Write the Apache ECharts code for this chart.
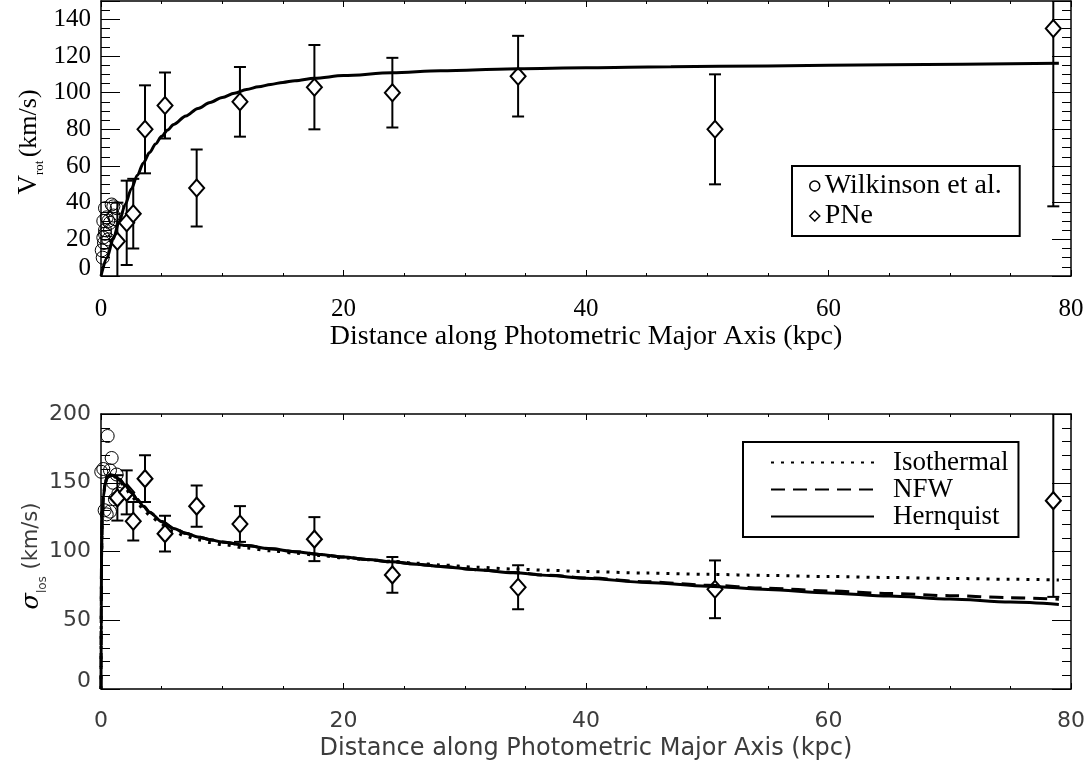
<!DOCTYPE html>
<html><head><meta charset="utf-8">
<script src="https://cdn.jsdelivr.net/npm/echarts@6/dist/echarts.min.js"></script>
<style>html,body{margin:0;padding:0;background:#fff}#c{width:1091px;height:765px}</style>
</head><body><div id="c"></div><script>
// ---- data ----
const pneR = [1.35, 2.12, 2.66, 3.63, 5.28, 7.89, 11.46, 17.6, 24.03, 34.4, 50.64, 78.54];
const pneVrot = [19, 29, 34, 80, 93, 48, 95, 103, 100, 109, 80, 135];
const pneVrotErr = [21, 23, 19, 24, 18, 21, 19, 23, 19, 22, 30, 97];
const pneSigma = [139, 143, 122, 153, 113, 133, 120, 109, 83, 74, 72.5, 137];
const pneSigmaErr = [16.5, 16, 14, 17, 13, 15, 13, 16, 13, 16, 21, 70];

const wilkVrot = [[0.06,14],[0.14,10],[0.19,21],[0.25,18],[0.33,25],[0.33,37],[0.19,30],[0.47,32],[0.6,30],[0.6,20],[0.74,25],[0.74,29],[0.88,39],[1.02,33],[1.02,38],[1.15,31],[1.29,37],[0.33,23]];
const wilkSigma = [[0.55,184],[0.88,168],[0.19,160],[0.02,158],[1.29,156],[0.74,159],[1.15,138],[1.43,142],[0.47,127],[0.74,129],[0.3,130],[1.0,150]];

const vrotFit = [[0,0],[0.5,10],[1,20],[1.5,29.7],[2,39],[2.5,47.5],[3,55],[3.5,61.7],[4,67.3],[4.5,72],[5,76.2],[5.5,79.7],[6,82.7],[7,87.3],[8,91.4],[9,94.7],[10,97.4],[11,99.7],[12,101.7],[13,103.2],[14,104.5],[15,105.6],[16,106.5],[17.6,107.8],[20,109.3],[24,110.9],[28,112],[34.4,113.1],[40,113.6],[47,114.1],[55,114.6],[65,115.2],[79,116]];

const sigIso = [[0,0],[0.02,60],[0.05,100],[0.1,125],[0.2,140],[0.35,150],[0.5,154],[0.75,156],[1,155],[1.5,151.5],[2,146],[2.5,140.5],[3,135.5],[3.5,130.5],[4,126.5],[5,119.5],[6,114.5],[7,111],[8,108.5],[9,106.6],[10,105],[12,102.5],[14,100.5],[16,98.8],[18,97.1],[20,95.4],[22,94],[24,92.8],[26,91.5],[28,90.2],[31,88.6],[34,87.3],[37,86.3],[40,85.4],[45,84.3],[50,83.4],[55,82.6],[60,81.8],[65,81.1],[70,80.4],[75,79.8],[79,79.3]];
const sigNFW = [[0,0],[0.02,60],[0.05,100],[0.1,125],[0.2,140],[0.35,150],[0.5,154],[0.75,156],[1,155.5],[1.5,152.5],[2,148],[2.5,143],[3,137.8],[3.5,133],[4,128.6],[5,121.8],[6,116.8],[7,113.2],[8,110.6],[9,108.6],[10,106.9],[12,104.3],[14,102],[16,99.9],[18,97.9],[20,96],[22,94.2],[24,92.5],[26,90.8],[28,89.1],[31,86.8],[34,84.7],[37,82.7],[40,80.8],[45,78],[50,75.5],[55,73.3],[60,71.3],[65,69.5],[70,67.9],[75,66.4],[79,65.3]];
const sigHern = [[0,0],[0.02,60],[0.05,100],[0.1,125],[0.2,140],[0.35,150],[0.5,154],[0.75,156],[1,155.5],[1.5,152.5],[2,148],[2.5,143],[3,137.8],[3.5,133],[4,128.6],[5,121.8],[6,116.8],[7,113.2],[8,110.6],[9,108.6],[10,106.9],[12,104.3],[14,102],[16,99.9],[18,97.9],[20,96],[22,94.2],[24,92.5],[26,90.8],[28,89.1],[31,86.8],[34,84.6],[37,82.5],[40,80.5],[45,77.5],[50,74.8],[55,72.3],[60,69.9],[65,67.6],[70,65.4],[75,63.2],[79,61.5]];

const vrotRange = [0, 150];
const sigmaRange = [0, 200];

// ---- build ----
const SERIF = '"Liberation Serif","Times New Roman",serif';
const SANS = '"DejaVu Sans",sans-serif';
const sansColor = '#3c3c3c';

function errData(xs, ys, es) { return xs.map((x, i) => [x, ys[i] - es[i], ys[i] + es[i]]); }
function errSeries(xi, yi, data, range) {
  return {
    type: 'custom', xAxisIndex: xi, yAxisIndex: yi, data: data, z: 3, silent: true,
    renderItem: function (params, api) {
      const x = api.value(0);
      let lo = api.value(1), hi = api.value(2);
      const loC = lo < range[0], hiC = hi > range[1];
      lo = Math.max(lo, range[0]); hi = Math.min(hi, range[1]);
      const p1 = api.coord([x, lo]), p2 = api.coord([x, hi]);
      const st = { stroke: '#000', lineWidth: 2 };
      const ch = [{ type: 'line', shape: { x1: p1[0], y1: p1[1], x2: p2[0], y2: p2[1] }, style: st }];
      if (!loC) ch.push({ type: 'line', shape: { x1: p1[0] - 6, y1: p1[1], x2: p1[0] + 6, y2: p1[1] }, style: st });
      if (!hiC) ch.push({ type: 'line', shape: { x1: p2[0] - 6, y1: p2[1], x2: p2[0] + 6, y2: p2[1] }, style: st });
      return { type: 'group', children: ch };
    }
  };
}
function xAxisCfg(gi, pos, labels, font, size, color, name, nameSize, nameGap) {
  const a = {
    type: 'value', gridIndex: gi, position: pos, min: 0, max: 80, interval: 20,
    axisLine: { show: true, onZero: false, lineStyle: { color: '#000', width: 1.5 } },
    axisTick: { show: true, inside: true, length: 6, lineStyle: { color: '#000', width: 1 } },
    minorTick: { show: true, splitNumber: 4, length: 3, lineStyle: { color: '#000', width: 1 } },
    splitLine: { show: false },
    axisLabel: { show: labels, margin: 21, fontFamily: font, fontSize: size, color: color }
  };
  if (name) {
    a.name = name; a.nameLocation = 'middle'; a.nameGap = nameGap;
    a.nameTextStyle = { fontFamily: font, fontSize: nameSize, color: color };
  }
  return a;
}
function yAxisCfg(gi, pos, labels, range, interval, minorSplit, font, size, color) {
  return {
    type: 'value', gridIndex: gi, position: pos, min: range[0], max: range[1], interval: interval,
    axisLine: { show: true, onZero: false, lineStyle: { color: '#000', width: 1.5 } },
    axisTick: { show: true, inside: true, length: 19, lineStyle: { color: '#000', width: 1 } },
    minorTick: { show: true, splitNumber: minorSplit, length: 9, lineStyle: { color: '#000', width: 1 } },
    splitLine: { show: false },
    axisLabel: {
      show: labels, margin: 10, fontFamily: font, fontSize: size, color: color,
      formatter: function (v) { if (v % interval !== 0) return ''; return v === 0 ? '{z|0}' : String(v); },
      rich: { z: { fontFamily: font, fontSize: size, color: color, padding: [0, 0, 16, 0] } }
    }
  };
}

const option = {
  animation: false,
  backgroundColor: '#fff',
  grid: [
    { left: 101, right: 20, top: 1, height: 275 },
    { left: 101, right: 20, top: 414, height: 275 }
  ],
  xAxis: [
    xAxisCfg(0, 'bottom', true, SERIF, 25, '#000', 'Distance along Photometric Major Axis (kpc)', 28, 43),
    xAxisCfg(0, 'top', false, SERIF, 25, '#000'),
    xAxisCfg(1, 'bottom', true, SANS, 22, sansColor, 'Distance along Photometric Major Axis (kpc)', 24, 48),
    xAxisCfg(1, 'top', false, SANS, 22, sansColor)
  ],
  yAxis: [
    yAxisCfg(0, 'left', true, vrotRange, 20, 4, SERIF, 25, '#000'),
    yAxisCfg(0, 'right', false, vrotRange, 20, 4, SERIF, 25, '#000'),
    yAxisCfg(1, 'left', true, sigmaRange, 50, 5, SANS, 22, sansColor),
    yAxisCfg(1, 'right', false, sigmaRange, 50, 5, SANS, 22, sansColor)
  ],
  legend: [
    {
      orient: 'vertical', left: 792, top: 166, padding: [6, 18, 6, 17], itemGap: 2,
      itemWidth: 10, itemHeight: 10, borderColor: '#000', borderWidth: 2, backgroundColor: '#fff',
      itemStyle: { borderWidth: 1.5, color: '#fff', borderColor: '#000', opacity: 1 },
      textStyle: { fontFamily: SERIF, fontSize: 28, color: '#000', lineHeight: 28 },
      selectedMode: false,
      data: [{ name: 'Wilkinson et al.', icon: 'circle' }, { name: 'PNe', icon: 'diamond' }]
    },
    {
      orient: 'vertical', left: 743, top: 442, padding: [7, 10, 7, 27], itemGap: 0,
      itemWidth: 103, itemHeight: 14, borderColor: '#000', borderWidth: 2, backgroundColor: '#fff',
      itemStyle: { color: 'rgba(0,0,0,0)', borderWidth: 0, opacity: 0 },
      textStyle: { fontFamily: SERIF, fontSize: 27, color: '#000', lineHeight: 27, padding: [0, 0, 0, 14] },
      selectedMode: false,
      data: ['Isothermal', 'NFW', 'Hernquist']
    }
  ],
  graphic: [
    {
      type: 'text', x: 29, y: 142, rotation: Math.PI / 2,
      style: {
        text: '{v|V}{s|rot} {n|(km/s)}', align: 'center', verticalAlign: 'middle',
        rich: {
          v: { fontFamily: SERIF, fontSize: 27, fill: '#000' },
          s: { fontFamily: SERIF, fontSize: 13, fill: '#000', padding: [22, 0, 0, 0] },
          n: { fontFamily: SERIF, fontSize: 26, fill: '#000' }
        }
      }
    },
    {
      type: 'text', x: 32, y: 556, rotation: Math.PI / 2,
      style: {
        text: '{v|σ}{s|los}  {n|(km/s)}', align: 'center', verticalAlign: 'middle',
        rich: {
          v: { fontFamily: '"DejaVu Serif",serif', fontStyle: 'italic', fontSize: 24, fill: '#000' },
          s: { fontFamily: SANS, fontSize: 12, fill: sansColor, padding: [22, 0, 0, 0] },
          n: { fontFamily: SANS, fontSize: 21, fill: sansColor }
        }
      }
    }
  ],
  series: [
    { name: 'Wilkinson et al.', type: 'scatter', xAxisIndex: 0, yAxisIndex: 0, data: wilkVrot, symbol: 'circle', symbolSize: 13, z: 2,
      itemStyle: { color: 'rgba(0,0,0,0)', borderColor: '#000', borderWidth: 1, opacity: 1 }, clip: true },
    errSeries(0, 0, errData(pneR, pneVrot, pneVrotErr), vrotRange),
    { name: 'PNe', type: 'scatter', xAxisIndex: 0, yAxisIndex: 0, data: pneR.map((x, i) => [x, pneVrot[i]]), symbol: 'diamond', symbolSize: [15, 17], z: 4,
      itemStyle: { color: '#fff', borderColor: '#000', borderWidth: 2, opacity: 1 } },
    { name: 'fit', type: 'line', xAxisIndex: 0, yAxisIndex: 0, data: vrotFit, symbol: 'none', smooth: 0.3, smoothMonotone: 'x', z: 5,
      lineStyle: { color: '#000', width: 3 } },

    { name: 'Wilkinson et al.', type: 'scatter', xAxisIndex: 2, yAxisIndex: 2, data: wilkSigma, symbol: 'circle', symbolSize: 13, z: 2,
      itemStyle: { color: 'rgba(0,0,0,0)', borderColor: '#000', borderWidth: 1, opacity: 1 }, clip: true },
    errSeries(2, 2, errData(pneR, pneSigma, pneSigmaErr), sigmaRange),
    { name: 'PNe', type: 'scatter', xAxisIndex: 2, yAxisIndex: 2, data: pneR.map((x, i) => [x, pneSigma[i]]), symbol: 'diamond', symbolSize: [15, 17], z: 4,
      itemStyle: { color: '#fff', borderColor: '#000', borderWidth: 2, opacity: 1 } },
    { name: 'Isothermal', type: 'line', xAxisIndex: 2, yAxisIndex: 2, data: sigIso, symbol: 'none', smooth: 0.3, smoothMonotone: 'x', z: 5,
      lineStyle: { color: '#000', width: 3, type: [3, 7] }, itemStyle: { color: '#000' } },
    { name: 'NFW', type: 'line', xAxisIndex: 2, yAxisIndex: 2, data: sigNFW, symbol: 'none', smooth: 0.3, smoothMonotone: 'x', z: 5,
      lineStyle: { color: '#000', width: 3, type: [14, 8] }, itemStyle: { color: '#000' } },
    { name: 'Hernquist', type: 'line', xAxisIndex: 2, yAxisIndex: 2, data: sigHern, symbol: 'none', smooth: 0.3, smoothMonotone: 'x', z: 5,
      lineStyle: { color: '#000', width: 3 }, itemStyle: { color: '#000' } }
  ]
};
const chart = echarts.init(document.getElementById('c'), null, { renderer: 'canvas' });
chart.setOption(option);
</script></body></html>
